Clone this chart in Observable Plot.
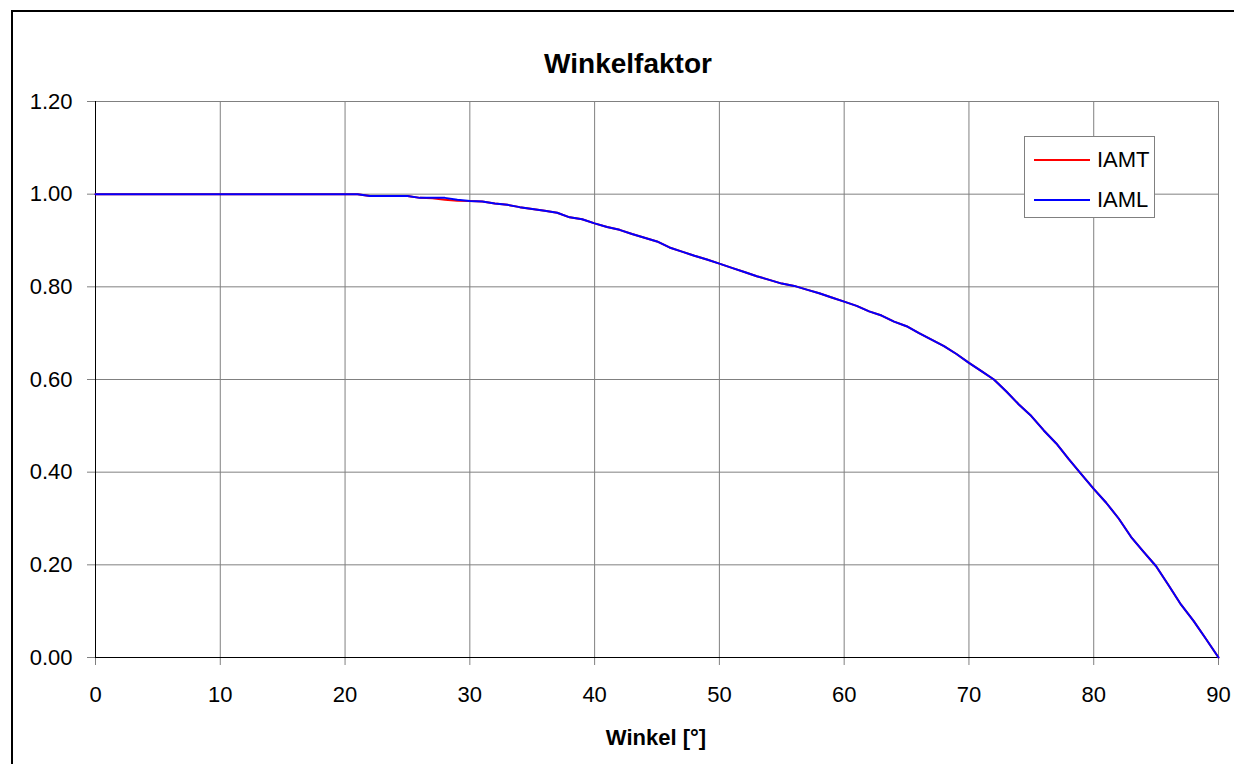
<!DOCTYPE html>
<html>
<head>
<meta charset="utf-8">
<script src="https://cdn.jsdelivr.net/npm/d3@7"></script>
<script src="https://cdn.jsdelivr.net/npm/@observablehq/plot@0.6"></script>
<style>
  html, body { margin: 0; padding: 0; background: #fff; width: 1234px; height: 764px; overflow: hidden; }
  body { position: relative; font-family: "Liberation Sans", Arial, sans-serif; }
  #frame { position: absolute; left: 11px; top: 10px; width: 1600px; height: 900px; border: 2px solid #000; box-sizing: border-box; }
  #title { position: absolute; left: 428px; width: 400px; top: 47px; text-align: center; font-weight: bold; font-size: 28px; line-height: 34px; color: #000; }
  #xtitle { position: absolute; left: 456px; width: 400px; top: 724px; text-align: center; font-weight: bold; font-size: 22px; line-height: 28px; color: #000; }
  #chart { position: absolute; left: 0; top: 90px; }
  #legend { position: absolute; left: 1024px; top: 136px; width: 131px; height: 82px; box-sizing: border-box; border: 1px solid #808080; background: #fff; }
  .item { position: absolute; left: 9px; height: 26px; display: flex; align-items: center; font-size: 22px; color: #000; }
  .item svg { margin-right: 7px; }
</style>
</head>
<body>
<div id="frame"></div>
<div id="title">Winkelfaktor</div>
<div id="chart"></div>
<div id="xtitle">Winkel [°]</div>
<div id="legend">
  <div class="item" style="top:10px"><svg width="56" height="4"><line x1="0" x2="56" y1="2" y2="2" stroke="#ff0000" stroke-width="2"/></svg>IAMT</div>
  <div class="item" style="top:50px"><svg width="56" height="4"><line x1="0" x2="56" y1="2" y2="2" stroke="#0000ff" stroke-width="2"/></svg>IAML</div>
</div>
<script>
const angles = [0,1,2,3,4,5,6,7,8,9,10,11,12,13,14,15,16,17,18,19,20,21,22,23,24,25,26,27,28,29,30,31,32,33,34,35,36,37,38,39,40,41,42,43,44,45,46,47,48,49,50,51,52,53,54,55,56,57,58,59,60,61,62,63,64,65,66,67,68,69,70,71,72,73,74,75,76,77,78,79,80,81,82,83,84,85,86,87,88,89,90];
const iaml = [1,1,1,1,1,1,1,1,1,1,1,1,1,1,1,1,1,1,1,1,1,1,
  0.996,0.996,0.996,0.996,0.992,0.992,0.992,0.988,0.985,0.984,0.980,0.977,0.972,0.968,0.964,0.960,0.950,0.946,
  0.937,0.929,0.923,0.914,0.906,0.898,0.885,0.876,0.867,0.859,
  0.850,0.841,0.832,0.823,0.815,0.807,0.802,0.794,0.786,0.777,
  0.768,0.759,0.747,0.738,0.725,0.715,0.700,0.686,0.672,0.655,
  0.636,0.618,0.600,0.574,0.546,0.521,0.490,0.462,0.428,0.396,
  0.364,0.334,0.300,0.260,0.228,0.197,0.156,0.114,0.079,0.040,0.000];
const iamt = [1,1,1,1,1,1,1,1,1,1,1,1,1,1,1,1,1,1,1,1,1,1,
  0.996,0.996,0.996,0.996,0.992,0.991,0.988,0.986,0.985,0.984,0.980,0.977,0.972,0.968,0.964,0.960,0.950,0.946,
  0.937,0.929,0.923,0.914,0.906,0.898,0.885,0.876,0.867,0.859,
  0.850,0.841,0.832,0.823,0.815,0.807,0.802,0.794,0.786,0.777,
  0.768,0.759,0.747,0.738,0.725,0.715,0.700,0.686,0.672,0.655,
  0.636,0.618,0.600,0.574,0.546,0.521,0.490,0.462,0.428,0.396,
  0.364,0.334,0.300,0.260,0.228,0.197,0.156,0.114,0.079,0.040,0.000];
const xTicks = [0,10,20,30,40,50,60,70,80,90];
const yTicks = [0,0.2,0.4,0.6,0.8,1.0,1.2];

const dataT = angles.map((a, i) => ({angle: a, value: iamt[i]}));
const dataL = angles.map((a, i) => ({angle: a, value: iaml[i]}));

const chart = Plot.plot({
  width: 1234,
  height: 620,
  marginLeft: 95,
  marginRight: 16,
  marginTop: 11,
  marginBottom: 53,
  style: {fontFamily: "'Liberation Sans', Arial, sans-serif", fontSize: "22px", color: "#000", background: "transparent", overflow: "visible"},
  x: {domain: [0, 90], ticks: xTicks, label: null},
  y: {domain: [0, 1.2], ticks: yTicks, label: null, tickFormat: d3.format(".2f")},
  marks: [
    Plot.gridX(xTicks, {stroke: "#808080", strokeOpacity: 1, strokeWidth: 1}),
    Plot.gridY(yTicks, {stroke: "#808080", strokeOpacity: 1, strokeWidth: 1}),
    Plot.axisX({ticks: xTicks, tickSize: 8, tickPadding: 21, stroke: "#808080", fontSize: 22, label: null}),
    Plot.axisY({ticks: yTicks, tickSize: 8, tickPadding: 15, stroke: "#808080", fontSize: 22, label: null, tickFormat: d3.format(".2f")}),
    Plot.ruleY([0], {stroke: "#000", strokeWidth: 1}),
    Plot.ruleX([0], {stroke: "#000", strokeWidth: 1}),
    Plot.line(dataT, {x: "angle", y: "value", stroke: "#ff0000", strokeWidth: 2}),
    Plot.line(dataL, {x: "angle", y: "value", stroke: "#0000ff", strokeWidth: 2})
  ]
});
document.getElementById("chart").appendChild(chart);
</script>
</body>
</html>
